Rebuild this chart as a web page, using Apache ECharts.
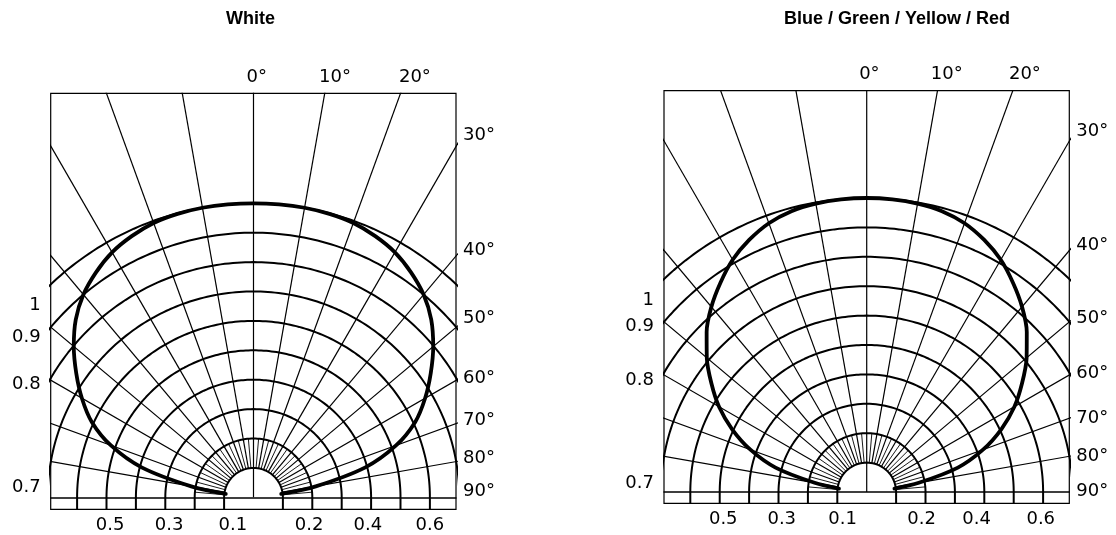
<!DOCTYPE html>
<html>
<head>
<meta charset="utf-8">
<script src="https://cdn.jsdelivr.net/npm/echarts@6/dist/echarts.min.js"></script>
<style>
html,body{margin:0;padding:0;background:#fff;}
#chart{width:1116px;height:535px;}
</style>
</head>
<body>
<div id="chart"></div>
<script>
// ---- data ----
const levels = [0.1, 0.2, 0.3, 0.4, 0.5, 0.6, 0.7, 0.8, 0.9, 1.0];
const spokeAngles = [-80, -70, -60, -50, -40, -30, -20, -10, 0, 10, 20, 30, 40, 50, 60, 70, 80];
const innerSpokeAngles = [-85, -75, -65, -55, -45, -35, -25, -15, -5, 5, 15, 25, 35, 45, 55, 65, 75, 85];
const curveAngles = [0, 5, 10, 15, 20, 25, 30, 35, 40, 45, 50, 55, 60, 65, 70, 75, 80, 83];
const whiteValues = [1.0, 1.0, 1.0, 0.998, 0.993, 0.98, 0.962, 0.934, 0.90, 0.855, 0.798, 0.736, 0.674, 0.607, 0.516, 0.394, 0.215, 0.095];
const colorValues = [1.0, 0.999, 0.996, 0.989, 0.973, 0.946, 0.912, 0.868, 0.822, 0.770, 0.710, 0.645, 0.580, 0.505, 0.421, 0.321, 0.180, 0.095];

const titles = ['White', 'Blue / Green / Yellow / Red'];
const topLabels = ['0°', '10°', '20°'];
const rightLabels = ['30°', '40°', '50°', '60°', '70°', '80°', '90°'];
const leftLabels = ['1', '0.9', '0.8', '0.7'];
const bottomLabels = ['0.5', '0.3', '0.1', '0.2', '0.4', '0.6'];

// label positions (in chart units) for each panel
const topLabelX = [[0.011, 0.277, 0.549], [0.009, 0.272, 0.538]];
const rightLabelY = [[1.232, 0.841, 0.610, 0.406, 0.263, 0.134, 0.019], [1.226, 0.840, 0.591, 0.404, 0.251, 0.120, 0.001]];
const leftLabelY = [[0.654, 0.545, 0.383, 0.035], [0.653, 0.562, 0.381, 0.030]];
const bottomLabelX = [[-0.488, -0.287, -0.070, 0.189, 0.389, 0.600], [-0.488, -0.289, -0.082, 0.187, 0.374, 0.592]];

// ---- layout ----
const panels = [
  {grid: {left: 50.7, top: 93.3, width: 405.3, height: 416}, x: [-0.6898, 0.6888], y: [-0.0408, 1.3741], values: whiteValues, titleLeft: 221},
  {grid: {left: 664, top: 90.7, width: 405.3, height: 412.6}, x: [-0.6895, 0.6891], y: [-0.0384, 1.365], values: colorValues, titleLeft: 779}
];

const font = {fontFamily: 'DejaVu Sans', fontSize: 18, color: '#000'};

function xy(theta, v) {
  const t = theta * Math.PI / 180;
  return [v * Math.sin(t), v * Math.cos(t)];
}
function fmt(vals, texts) {
  return function (v) {
    for (let i = 0; i < vals.length; i++) if (Math.abs(vals[i] - v) < 1e-6) return texts[i];
    return '';
  };
}

const option = {
  animation: false,
  backgroundColor: '#fff',
  title: [], grid: [], xAxis: [], yAxis: [], series: []
};

panels.forEach(function (p, pi) {
  option.title.push({
    text: titles[pi], left: p.titleLeft, top: 5,
    textStyle: {fontFamily: 'Liberation Sans', fontSize: 18, fontWeight: 'bold', color: '#000'}
  });
  option.grid.push(Object.assign({show: true, borderColor: '#000', borderWidth: 1.2, backgroundColor: 'transparent'}, p.grid));
  const xb = option.xAxis.length;
  const base = {gridIndex: pi, type: 'value', min: p.x[0], max: p.x[1], splitLine: {show: false}, axisTick: {show: false}};
  option.xAxis.push(Object.assign({}, base, {position: 'bottom', axisLine: {show: true, onZero: true, lineStyle: {color: '#000', width: 1.5}}, axisLabel: {show: false}}));
  option.xAxis.push(Object.assign({}, base, {position: 'bottom', axisLine: {show: false, onZero: false}, axisLabel: Object.assign({customValues: bottomLabelX[pi], formatter: fmt(bottomLabelX[pi], bottomLabels), margin: 7}, font)}));
  option.xAxis.push(Object.assign({}, base, {position: 'top', axisLine: {show: false, onZero: false}, axisLabel: Object.assign({customValues: topLabelX[pi], formatter: fmt(topLabelX[pi], topLabels), margin: 7}, font)}));
  const yb = option.yAxis.length;
  const ybase = {gridIndex: pi, type: 'value', min: p.y[0], max: p.y[1], splitLine: {show: false}, axisTick: {show: false}, axisLine: {show: false, onZero: false}};
  option.yAxis.push(Object.assign({}, ybase, {position: 'left', axisLabel: Object.assign({customValues: leftLabelY[pi], formatter: fmt(leftLabelY[pi], leftLabels), margin: 10}, font)}));
  option.yAxis.push(Object.assign({}, ybase, {position: 'right', axisLabel: Object.assign({customValues: rightLabelY[pi], formatter: fmt(rightLabelY[pi], rightLabels), margin: 7}, font)}));

  const common = {type: 'line', xAxisIndex: xb, yAxisIndex: yb, showSymbol: false, symbol: 'none', silent: true, clip: true};

  // intensity arcs, continued straight down to the frame bottom
  levels.forEach(function (v) {
    const d = [[-v, p.y[0]]];
    for (let a = -90; a <= 90; a += 1) d.push(xy(a, v));
    d.push([v, p.y[0]]);
    option.series.push(Object.assign({}, common, {data: d, lineStyle: {color: '#000', width: 2}, z: 2}));
  });
  // angle spokes
  spokeAngles.forEach(function (a) {
    const r0 = a === 0 ? 0 : levels[0];
    option.series.push(Object.assign({}, common, {data: [xy(a, r0), xy(a, 3)], lineStyle: {color: '#000', width: 1.2}, z: 2}));
  });
  // fine spokes in the innermost ring
  innerSpokeAngles.forEach(function (a) {
    option.series.push(Object.assign({}, common, {data: [xy(a, levels[0]), xy(a, levels[1])], lineStyle: {color: '#000', width: 0.9}, z: 2}));
  });
  // radiation curve
  const cd = [];
  for (let i = curveAngles.length - 1; i >= 0; i--) cd.push(xy(-curveAngles[i], p.values[i]));
  for (let i = 1; i < curveAngles.length; i++) cd.push(xy(curveAngles[i], p.values[i]));
  option.series.push(Object.assign({}, common, {data: cd, smooth: 0.3, lineStyle: {color: '#000', width: 3.8, cap: 'round'}, z: 5}));
});

const chart = echarts.init(document.getElementById('chart'));
chart.setOption(option);
</script>
</body>
</html>
